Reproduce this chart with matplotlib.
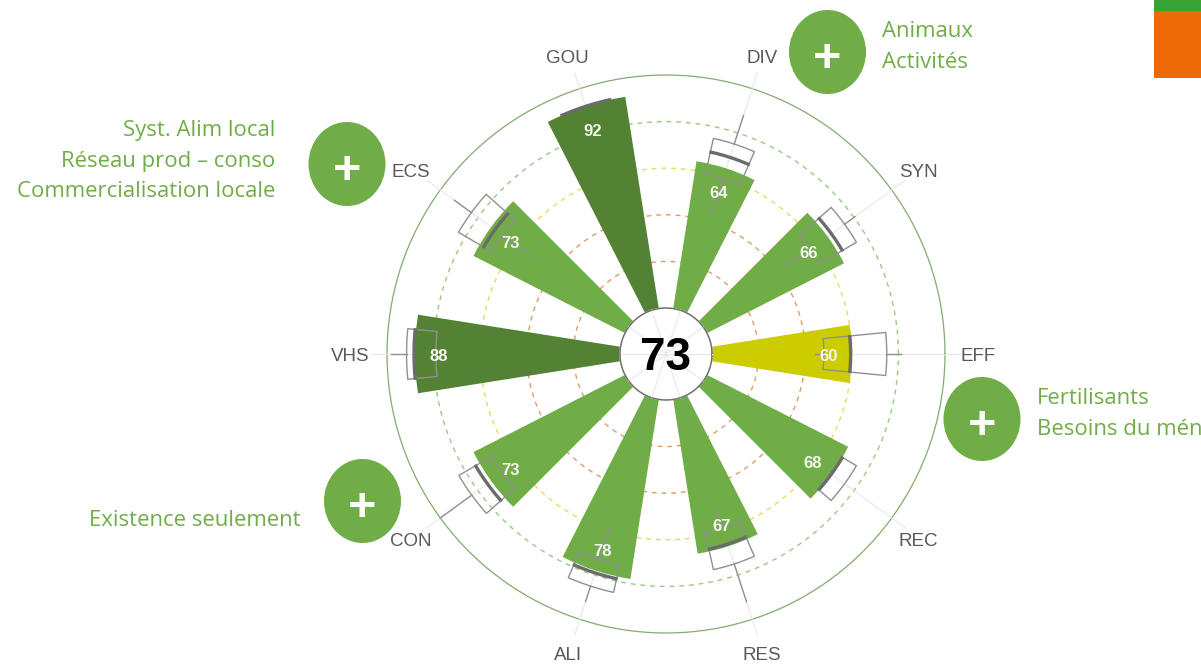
import numpy as np
import matplotlib
matplotlib.use("Agg")
import matplotlib.pyplot as plt
from matplotlib.patches import Ellipse, Rectangle

# Indicator data, counter-clockwise from the right
names = ["EFF", "SYN", "DIV", "GOU", "ECS", "VHS", "CON", "ALI", "RES", "REC"]
angles = [0, 36, 72, 108, 144, 180, 216, 252, 288, 324]
scores = [60, 66, 64, 92, 73, 88, 73, 78, 67, 68]
whisker_low = [44, 44, 44.5, 92, 51, 79, 67, 58.5, 50, 66.5]
box_low = [48, 56.5, 59.5, 92, 67, 79, 67, 73, 58.5, 67.5]
medians = [59.5, 68, 69, 92, 71, 88.4, 75, 79, 66, 68]
box_high = [75, 75, 75, 92, 83.5, 91.6, 83.3, 85, 75, 75]
whisker_high = [81, 80.5, 88, 92, 92.5, 98.3, 100, 92, 92, 75]
overall = 73

rings = [20, 40, 60, 80]
ring_colors = ["#dd9c68", "#dd9c68", "#dfdf5c", "#9cc884"]

light_green = "#70ad47"
dark_green = "#548235"
yellow = "#cccc00"
bar_colors = [yellow, light_green, light_green, dark_green, light_green,
              dark_green, light_green, light_green, light_green, light_green]

# Side notes: text, x, y, alignment and the circle next to them
notes = [
    ("Animaux\nActivités", 882, 47, "left", 827.5, 52),
    ("Syst. Alim local\nRéseau prod – conso\nCommercialisation locale", 275, 161, "right", 347, 164),
    ("Fertilisants\nBesoins du mén", 1037, 414, "left", 982, 419),
    ("Existence seulement", 301, 520, "right", 362.5, 501),
]

W, H = 1201, 666
cx, cy, radius = 666, 354, 279
hub = 46
origin = -hub / ((radius - hub) / 100)
sans = ["Liberation Sans", "DejaVu Sans"]

fig = plt.figure(figsize=(W / 100, H / 100), dpi=100)

# Background layer in pixels for the notes and the corner block
bg = fig.add_axes([0, 0, 1, 1])
bg.set_xlim(0, W)
bg.set_ylim(H, 0)
bg.axis("off")
bg.add_patch(Rectangle((1154, 0), 47, 11, color="#38a335", lw=0))
bg.add_patch(Rectangle((1154, 11), 47, 67, color="#ee6a09", lw=0))
for text, tx, ty, align, ex, ey in notes:
    bg.text(tx, ty, text, ha=align, va="center", color=light_green, fontsize=15.9,
            family="Open Sans", linespacing=1.58)
    bg.add_patch(Ellipse((ex, ey), 77, 84, color=light_green, lw=0))
    bg.text(ex, ey + 9, "+", ha="center", va="center", color="white", fontsize=36,
            fontweight="bold", family="Open Sans")

# Polar chart
ax = fig.add_axes([(cx - radius) / W, 1 - (cy + radius) / H, 2 * radius / W, 2 * radius / H],
                  projection="polar")
ax.patch.set_alpha(0)
ax.set_ylim(0, 100)
ax.set_rorigin(origin)
ax.axis("off")

circle = np.linspace(0, 2 * np.pi, 361)
ax.plot(circle, np.full(361, 100), color="#84ab70", lw=0.9, zorder=1, clip_on=False)
for ring, col in zip(rings, ring_colors):
    ax.plot(circle, np.full(361, ring), color=col, lw=1, ls=(0, (3.5, 3.5)), zorder=1)

theta = np.radians(angles)
for t in theta:
    ax.plot([t, t], [origin, 107], color="#e8e8e8", lw=0.8, zorder=1.5, clip_on=False)

ax.bar(theta, scores, width=np.radians(18), bottom=0, color=bar_colors, lw=0, zorder=2)

half = np.radians(5.6)
box_col = "#909090"
for i, t in enumerate(theta):
    arc = np.linspace(t - half, t + half, 20)
    if box_high[i] > box_low[i]:
        ax.plot(np.r_[arc, arc[::-1], arc[0]],
                np.r_[np.full(20, box_low[i]), np.full(20, box_high[i]), box_low[i]],
                color=box_col, lw=1, zorder=3, clip_on=False)
        ax.plot([t, t], [whisker_low[i], box_low[i]], color=box_col, lw=1, zorder=3)
        ax.plot([t, t], [box_high[i], whisker_high[i]], color=box_col, lw=1, zorder=3, clip_on=False)
    wide = np.linspace(t - half * 1.05, t + half * 1.05, 20)
    ax.plot(wide, np.full(20, medians[i]), color="#6b6b6b", lw=2.4, zorder=3.2, solid_capstyle="butt")

# Hub
ax.fill(circle, np.zeros(361), color="white", zorder=4)
ax.plot(circle, np.zeros(361), color="#6f6f6f", lw=1.1, zorder=4.1, clip_on=False)
for t in theta:
    ax.plot([t, t], [origin, 0], color="#f1f1f1", lw=0.8, zorder=4.2)

for i, t in enumerate(theta):
    ax.annotate(str(scores[i]), (t, scores[i] - 10), xytext=(0, -2), textcoords="offset points",
                ha="center", va="center", color="#f2f6ee",
                fontsize=12, fontweight="bold", family=sans, zorder=5, annotation_clip=False)
    ax.annotate(names[i], (t, 115), xytext=(-1, -2), textcoords="offset points",
                ha="center", va="center", color="#595959",
                fontsize=13.5, family=sans, zorder=5, annotation_clip=False)

ax.annotate(str(overall), (0, origin), xytext=(0, -3), textcoords="offset points",
            ha="center", va="center", color="black", fontsize=33,
            fontweight="bold", family=sans, zorder=6, annotation_clip=False)

fig.savefig("out.png", dpi=100)
